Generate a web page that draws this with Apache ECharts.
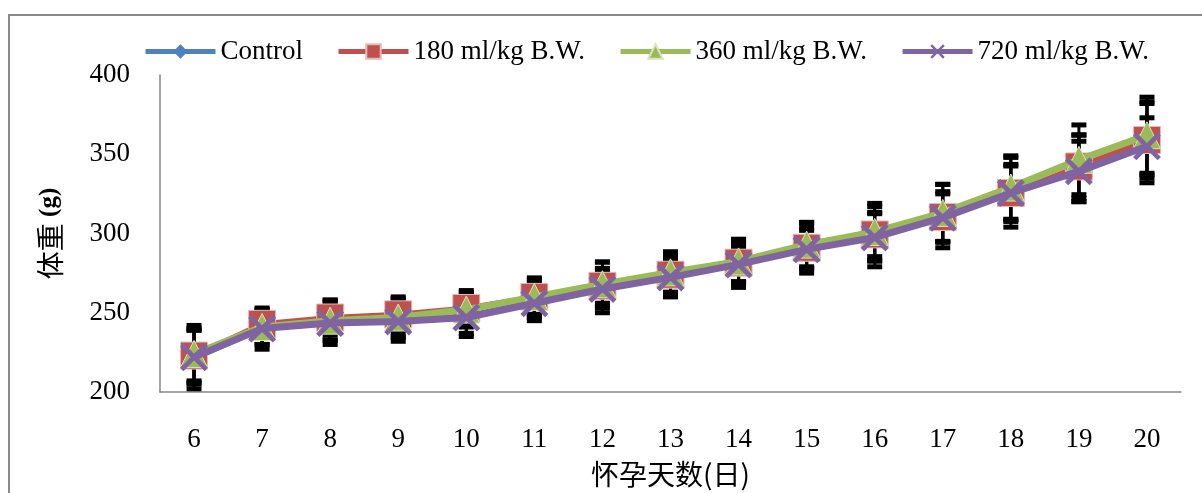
<!DOCTYPE html>
<html>
<head>
<meta charset="utf-8">
<script src="https://cdn.jsdelivr.net/npm/echarts@6/dist/echarts.min.js"></script>
<style>
  html, body { margin: 0; padding: 0; background: #fff; }
  #chart { width: 1202px; height: 493px; }
</style>
</head>
<body>
<div id="chart"></div>
<script>
const days = ['6','7','8','9','10','11','12','13','14','15','16','17','18','19','20'];
const seriesNames = ['Control', '180 ml/kg B.W.', '360 ml/kg B.W.', '720 ml/kg B.W.'];

const controlMean = [221, 240, 244, 245, 248, 257, 266, 273, 281, 291, 298, 311, 326, 341, 357];
const dose180Mean = [223, 243, 247, 249, 253, 260, 267, 274, 281.6, 291, 299.4, 310.4, 325.6, 342.3, 359];
const dose360Mean = [224, 241, 245, 247, 252, 260, 268, 275.5, 282.4, 293, 301, 313, 329, 346.5, 362];
const dose720Mean = [222, 240, 243.5, 244.5, 247, 256, 265, 272.3, 280.5, 290, 297.5, 310, 325.6, 339.2, 355];

const controlSD = [19, 13, 14, 13, 13, 12, 16, 13, 15, 16, 19, 20, 22, 21, 25];
const dose180SD = [16, 9, 11, 11, 11, 11, 11, 11, 12, 13, 14, 16, 17, 20, 24];
const dose360SD = [18, 11, 12, 12, 11, 12, 14, 13, 14, 14, 18, 18, 20, 22, 24];
const dose720SD = [17, 10, 11, 10, 10, 9, 12, 10, 11, 12, 15, 15, 18, 19, 18];

const yTicks = { min: 200, max: 400, interval: 50 };

const colors = ['#4F81BD', '#C0504D', '#9BBB59', '#8064A2'];
const borderColors = ['#4F81BD', '#E6B9B8', '#D7E4BD', '#8064A2'];
const serif = '"Liberation Serif", "Times New Roman", serif';
const cjk = '"Noto Sans CJK SC", sans-serif';
const xSymbol = 'path://M0,1.2L1.2,0L5,3.8L8.8,0L10,1.2L6.2,5L10,8.8L8.8,10L5,6.2L1.2,10L0,8.8L3.8,5Z';

const means = [controlMean, dose180Mean, dose360Mean, dose720Mean];
const sds = [controlSD, dose180SD, dose360SD, dose720SD];
const symbols = ['diamond', 'rect', 'triangle', xSymbol];
const symbolSizes = [16, 27, 27, 28];
const lineWidths = [5, 5, 7, 7];

function errorData(mean, sd) {
  return mean.map((m, i) => [i, m - sd[i], m + sd[i]]);
}

function renderError(params, api) {
  const lo = api.coord([api.value(0), api.value(1)]);
  const hi = api.coord([api.value(0), api.value(2)]);
  const capW = 15, capH = 5;
  return {
    type: 'group',
    children: [
      { type: 'line', shape: { x1: lo[0], y1: lo[1], x2: hi[0], y2: hi[1] },
        style: { stroke: '#000', lineWidth: 3 } },
      { type: 'rect', shape: { x: hi[0] - capW / 2, y: hi[1] - capH / 2, width: capW, height: capH },
        style: { fill: '#000' } },
      { type: 'rect', shape: { x: lo[0] - capW / 2, y: lo[1] - capH / 2, width: capW, height: capH },
        style: { fill: '#000' } }
    ]
  };
}

const series = [];
means.forEach((m, k) => {
  series.push({
    type: 'custom',
    name: 'err' + k,
    renderItem: renderError,
    data: errorData(m, sds[k]),
    encode: { x: 0, y: [1, 2] },
    z: 1,
    silent: true
  });
});
means.forEach((m, k) => {
  series.push({
    type: 'line',
    name: seriesNames[k],
    data: m,
    symbol: symbols[k],
    symbolSize: symbolSizes[k],
    showAllSymbol: true,
    lineStyle: { color: colors[k], width: lineWidths[k] },
    itemStyle: { color: colors[k], borderColor: borderColors[k], borderWidth: (k === 1 || k === 2) ? 1 : 0 },
    z: 3 + k
  });
});

const chart = echarts.init(document.getElementById('chart'), null, { renderer: 'canvas' });
chart.setOption({
  animation: false,
  backgroundColor: '#fff',
  color: colors,
  graphic: [{
    type: 'rect',
    shape: { x: 9, y: 15, width: 1200, height: 500 },
    style: { fill: 'none', stroke: '#8a8a8a', lineWidth: 2 },
    silent: true
  }],
  legend: {
    data: seriesNames,
    left: 138,
    top: 33,
    itemWidth: 70,
    itemHeight: 18,
    itemGap: 33,
    lineStyle: { width: 5 },
    textStyle: { fontFamily: serif, fontSize: 27, color: '#000' }
  },
  grid: { left: 160, right: 21, top: 75, bottom: 100, containLabel: false },
  xAxis: {
    type: 'category',
    data: days,
    boundaryGap: true,
    axisLine: { lineStyle: { color: '#868686', width: 1.5 } },
    axisTick: { show: false },
    axisLabel: { fontFamily: serif, fontSize: 27, color: '#000', margin: 34 },
    name: '怀孕天数(日)',
    nameLocation: 'middle',
    nameGap: 68,
    nameTextStyle: { fontFamily: cjk, fontSize: 28, color: '#000' }
  },
  yAxis: {
    type: 'value',
    min: yTicks.min,
    max: yTicks.max,
    interval: yTicks.interval,
    axisLine: { show: true, lineStyle: { color: '#868686', width: 1.5 } },
    axisTick: { show: false },
    splitLine: { show: false },
    axisLabel: { fontFamily: serif, fontSize: 27, color: '#000', margin: 30 },
    name: '{c|体重 }{b|(g)}',
    nameLocation: 'middle',
    nameGap: 96,
    nameTextStyle: {
      rich: {
        c: { fontFamily: cjk, fontSize: 28, color: '#000' },
        b: { fontFamily: serif, fontSize: 25, fontWeight: 'bold', color: '#000' }
      }
    }
  },
  series: series
});
</script>
</body>
</html>
